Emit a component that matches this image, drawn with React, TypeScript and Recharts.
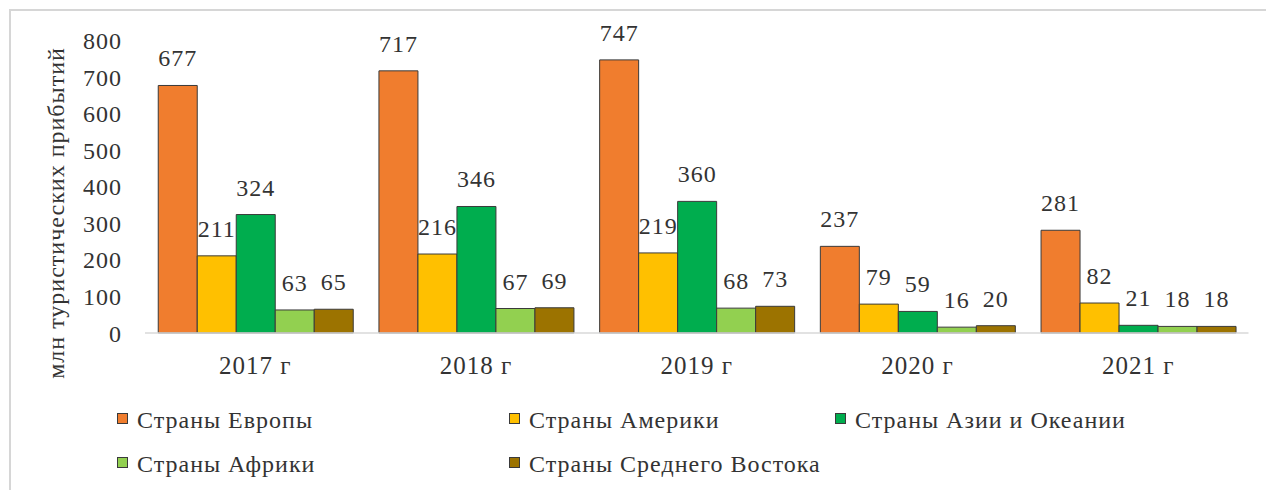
import React from "react";
import { BarChart, Bar, XAxis, YAxis, LabelList, Label } from "recharts";

const categories = ["2017 г", "2018 г", "2019 г", "2020 г", "2021 г"];
const europe = [677, 717, 747, 237, 281];
const america = [211, 216, 219, 79, 82];
const asia = [324, 346, 360, 59, 21];
const africa = [63, 67, 68, 16, 18];
const middleEast = [65, 69, 73, 20, 18];
const yTicks = [0, 100, 200, 300, 400, 500, 600, 700, 800];

const seriesNames = [
  "Страны Европы",
  "Страны Америки",
  "Страны Азии и Океании",
  "Страны Африки",
  "Страны Среднего Востока",
];
const seriesKeys = ["europe", "america", "asia", "africa", "middleEast"];
const seriesColors = ["#F07D2E", "#FFC000", "#00AD4E", "#92D050", "#9C7300"];
const seriesValues = [europe, america, asia, africa, middleEast];

const data = categories.map((c, i) => {
  const row: Record<string, string | number> = { name: c };
  seriesKeys.forEach((k, s) => {
    row[k] = seriesValues[s][i];
  });
  return row;
});

const FONT = "Liberation Serif";
const TEXT = "#333333";

const legendPos: [number, number][] = [
  [117, 0],
  [509, 0],
  [835, 0],
  [117, 1],
  [509, 1],
];

export default function App() {
  return (
    <div
      style={{
        position: "absolute",
        left: 0,
        top: 0,
        width: 1266,
        height: 490,
        background: "#fff",
        overflow: "hidden",
        fontFamily: FONT,
      }}
    >
      <div
        style={{
          position: "absolute",
          left: 9,
          top: 9,
          width: 1300,
          height: 600,
          borderTop: "2px solid #d6d6d6",
          borderLeft: "2px solid #d6d6d6",
        }}
      />
      <div style={{ position: "absolute", left: 0, top: 0, fontFamily: FONT }}>
        <BarChart
          width={1266}
          height={490}
          data={data}
          margin={{ top: 40.5, right: 17.5, bottom: 0, left: 0 }}
          barCategoryGap="6%"
          barGap={0}
          style={{ fontFamily: FONT }}
        >
          <XAxis
            dataKey="name"
            height={157}
            axisLine={{ stroke: "#d9d9d9", strokeWidth: 1.5 }}
            tickLine={false}
            tickSize={0}
            tickMargin={23}
            tick={{ fill: TEXT, fontSize: 25, fontFamily: FONT, letterSpacing: 1 }}
            interval={0}
          />
          <YAxis
            width={145}
            domain={[0, 800]}
            ticks={yTicks}
            axisLine={false}
            tickLine={false}
            tickSize={0}
            tickMargin={23}
            tick={{ fill: TEXT, fontSize: 24, fontFamily: FONT, letterSpacing: 1 }}
            interval={0}
          >
            <Label
              content={() => (
                <text
                  x={64}
                  y={213}
                  transform="rotate(-90 64 213)"
                  textAnchor="middle"
                  fill={TEXT}
                  fontSize={24}
                  fontFamily={FONT}
                  letterSpacing={1}
                >
                  млн туристических прибытий
                </text>
              )}
            />
          </YAxis>
          {seriesKeys.map((k, s) => (
            <Bar
              key={k}
              dataKey={k}
              name={seriesNames[s]}
              fill={seriesColors[s]}
              stroke="#3a3a3a"
              strokeWidth={1}
              isAnimationActive={false}
            >
              <LabelList
                dataKey={k}
                position="top"
                offset={19}
                fill={TEXT}
                fontSize={24}
                fontFamily={FONT}
                style={{ fontFamily: FONT, letterSpacing: 1 }}
              />
            </Bar>
          ))}
        </BarChart>
      </div>
      {seriesNames.map((n, s) => {
        const [left, row] = legendPos[s];
        const top = row === 0 ? 413 : 457;
        return (
          <React.Fragment key={n}>
            <div
              style={{
                position: "absolute",
                left,
                top,
                width: 9,
                height: 9,
                background: seriesColors[s],
                border: "1px solid #3a3a3a",
              }}
            />
            <div
              style={{
                position: "absolute",
                left: left + 20,
                top: top - 5,
                fontSize: 24,
                lineHeight: "24px",
                color: TEXT,
                whiteSpace: "nowrap",
                letterSpacing: 1,
                fontFamily: FONT,
              }}
            >
              {n}
            </div>
          </React.Fragment>
        );
      })}
    </div>
  );
}
